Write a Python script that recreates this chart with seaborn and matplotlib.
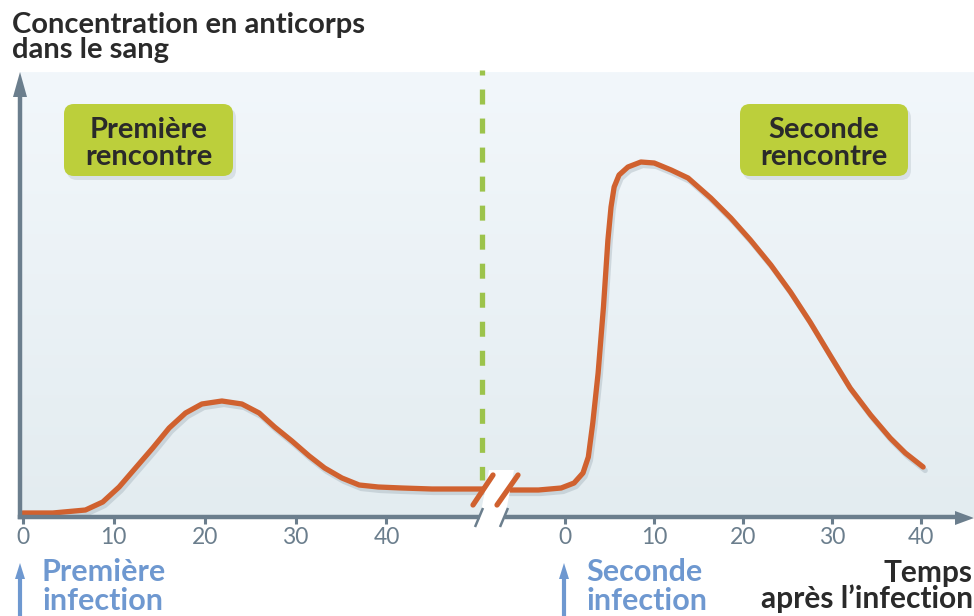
import numpy as np
import pandas as pd
import matplotlib
matplotlib.use("Agg")
import matplotlib.pyplot as plt
import seaborn as sns
from matplotlib.patches import FancyBboxPatch, Polygon
import matplotlib.patheffects as pe
from matplotlib.colors import LinearSegmentedColormap

# ---------------- data ----------------
first_t = [0, 3.3, 6.9, 8.8, 10.6, 12.4, 14.3, 16.1, 17.9, 19.7, 21.9, 24.1,
           26.0, 27.7, 29.6, 31.5, 33.2, 35.1, 37.0, 39.1, 41.7, 45, 50.8]
first_c = [4, 4, 7, 15, 30, 49, 69, 89, 104, 113, 116, 113,
           104, 90, 76, 61, 49, 39, 32, 30, 29, 28, 28]
second_t = [-6.4, -3.0, -0.45, 1.0, 2.0, 2.6, 3.1, 3.7, 4.3, 4.8, 5.15, 5.5,
            6.05, 7.05, 8.5, 10.0, 11.9, 13.8, 16.35, 18.6, 20.8, 23.1, 25.3,
            27.5, 29.8, 32.0, 34.3, 36.5, 38.2, 40.2]
second_c = [27, 27, 29, 34, 44, 60, 94, 144, 210, 277, 310, 330,
            342, 350, 355, 354, 347, 339, 319, 299, 277, 252, 225,
            195, 161, 129, 102, 79, 64, 50]
tick_values = [0, 10, 20, 30, 40]
tick_labels = ["0", "10", "20", "30", "40"]

title_lines = ["Concentration en anticorps", "dans le sang"]
box1_lines = ["Première", "rencontre"]
box2_lines = ["Seconde", "rencontre"]
inf1_lines = ["Première", "infection"]
inf2_lines = ["Seconde", "infection"]
xlabel_lines = ["Temps", "après l’infection"]

# ---------------- styles ----------------
W, H = 974, 616
AX_L, AX_B, AX_T = 20, 517, 72
PX_PER_U = 9.1
LEFT_SCALE = 9.12 / PX_PER_U
RIGHT_OFFSET = (564 - AX_L) / PX_PER_U
RIGHT_SCALE = 8.93 / PX_PER_U
XMAX = (W - AX_L) / PX_PER_U
YMAX = AX_B - AX_T

ORANGE = "#D0612F"
AXIS = "#6B7E8D"
GREEN_BOX = "#BCCF3B"
GREEN_DASH = "#9CC34B"
BLUE = "#6E98D0"
DARK = "#2a2a2a"
FS = 21

sns.set_theme(style="white")
plt.rcParams["font.family"] = ["Lato", "DejaVu Sans"]
plt.rcParams["lines.scale_dashes"] = False

def u_first(t):
    return np.asarray(t, dtype=float) * LEFT_SCALE

def u_second(t):
    return RIGHT_OFFSET + np.asarray(t, dtype=float) * RIGHT_SCALE

def px(u):
    return AX_L + u * PX_PER_U

df = pd.concat([
    pd.DataFrame({"u": u_first(first_t), "c": first_c, "phase": "first"}),
    pd.DataFrame({"u": u_second(second_t), "c": second_c, "phase": "second"}),
])

fig = plt.figure(figsize=(W / 100, H / 100), dpi=100)
ax = fig.add_axes([AX_L / W, (H - AX_B) / H, (W - AX_L) / W, YMAX / H])

# background gradient
cmap = LinearSegmentedColormap.from_list("bg", ["#E3ECF0", "#F2F7FB"])
grad = np.linspace(0, 1, 256).reshape(-1, 1)
ax.imshow(grad, extent=[-0.3, XMAX, 0, YMAX], origin="lower", aspect="auto",
          cmap=cmap, zorder=0)

sns.lineplot(data=df, x="u", y="c", hue="phase", estimator=None,
             palette=[ORANGE, ORANGE], legend=False, ax=ax, lw=3.8,
             solid_capstyle="round", solid_joinstyle="round", zorder=3,
             path_effects=[pe.SimpleLineShadow(offset=(1.5, -2.5),
                                               shadow_color="#8a9aa5", alpha=0.3),
                           pe.Normal()])

ax.set_xlim(-0.3, XMAX)
ax.set_ylim(0, YMAX)
ax.set_xlabel("")
ax.set_ylabel("")
ax.set_facecolor("none")

for s in ["top", "right"]:
    ax.spines[s].set_visible(False)
for s in ["left", "bottom"]:
    ax.spines[s].set_visible(True)
    ax.spines[s].set_color(AXIS)
    ax.spines[s].set_linewidth(3.2)
    ax.spines[s].set_zorder(4)
ax.spines["left"].set_bounds(0, YMAX - 20)
ax.spines["bottom"].set_bounds(-0.3, (955 - AX_L) / PX_PER_U)

xt = list(u_first(tick_values)) + list(u_second(tick_values))
ax.set_xticks(xt)
ax.set_xticklabels(tick_labels + tick_labels)
ax.set_yticks([])
ax.tick_params(axis="x", direction="out", length=5, width=2.2, color=AXIS,
               labelcolor=AXIS, labelsize=16.5, pad=2, bottom=True)
ax.grid(False)

# ---------------- overlay in pixel space ----------------
ov = fig.add_axes([0, 0, 1, 1], zorder=5)
ov.set_xlim(0, W)
ov.set_ylim(H, 0)
ov.axis("off")
ov.patch.set_alpha(0)

# axis arrows
ov.add_patch(Polygon([(AX_L, 72), (AX_L - 7, 97), (AX_L + 7, 97)], closed=True,
                     color=AXIS, lw=0))
ov.add_patch(Polygon([(974, 518), (955, 511), (955, 525)], closed=True,
                     color=AXIS, lw=0))

# dashed separator
xsep = 482
ov.plot([xsep, xsep], [70, 480], color=GREEN_DASH, lw=3.8,
        linestyle=(7.2, (10.8, 10.1)), solid_capstyle="butt", zorder=2)

# break
ov.add_patch(Polygon([(489, 470), (514, 470), (503, 527), (478, 527)],
                     closed=True, color="white", lw=0, zorder=3))
for (x0, y0, x1, y1) in [(473, 505, 493, 475), (497, 505, 518, 475)]:
    ov.plot([x0, x1], [y0, y1], color=ORANGE, lw=3.8, solid_capstyle="round", zorder=4)
for (x0, y0, x1, y1) in [(475, 527, 483, 508), (500, 527, 508, 508)]:
    ov.plot([x0, x1], [y0, y1], color=AXIS, lw=1.8, solid_capstyle="butt", zorder=4)

# title
ov.text(12, 33, title_lines[0], fontsize=FS, fontweight="bold", color=DARK, va="baseline")
ov.text(12, 58, title_lines[1], fontsize=FS, fontweight="bold", color=DARK, va="baseline")

# green boxes
def green_box(x0, y0, w, h, lines):
    ov.add_patch(FancyBboxPatch((x0 + 3, y0 + 4), w, h,
                                boxstyle="round,pad=0,rounding_size=10",
                                fc="#c3cdd3", ec="none", alpha=0.5, zorder=5))
    ov.add_patch(FancyBboxPatch((x0, y0), w, h,
                                boxstyle="round,pad=0,rounding_size=10",
                                fc=GREEN_BOX, ec="none", zorder=6))
    cx = x0 + w / 2
    ov.text(cx, y0 + 34, lines[0], fontsize=FS, fontweight="bold", color=DARK,
            ha="center", va="baseline", zorder=7)
    ov.text(cx, y0 + 61, lines[1], fontsize=FS, fontweight="bold", color=DARK,
            ha="center", va="baseline", zorder=7)

green_box(64, 104, 169, 72, box1_lines)
green_box(740, 104, 168, 72, box2_lines)

# infection arrows and labels
def infection(xp, lines):
    ov.plot([xp, xp], [616, 575], color=BLUE, lw=3, solid_capstyle="butt")
    ov.add_patch(Polygon([(xp, 563), (xp - 5, 579), (xp + 5, 579)], closed=True,
                         color=BLUE, lw=0))
    ov.text(xp + 22, 581, lines[0], fontsize=22, fontweight="bold", color=BLUE, va="baseline")
    ov.text(xp + 22, 610, lines[1], fontsize=22, fontweight="bold", color=BLUE, va="baseline")

infection(px(u_first(0)), inf1_lines)
infection(px(u_second(0)), inf2_lines)

ov.text(973, 582, xlabel_lines[0], fontsize=21.5, fontweight="bold", color=DARK,
        ha="right", va="baseline")
ov.text(973, 608, xlabel_lines[1], fontsize=21.5, fontweight="bold", color=DARK,
        ha="right", va="baseline")

fig.savefig("out.png", dpi=100)
